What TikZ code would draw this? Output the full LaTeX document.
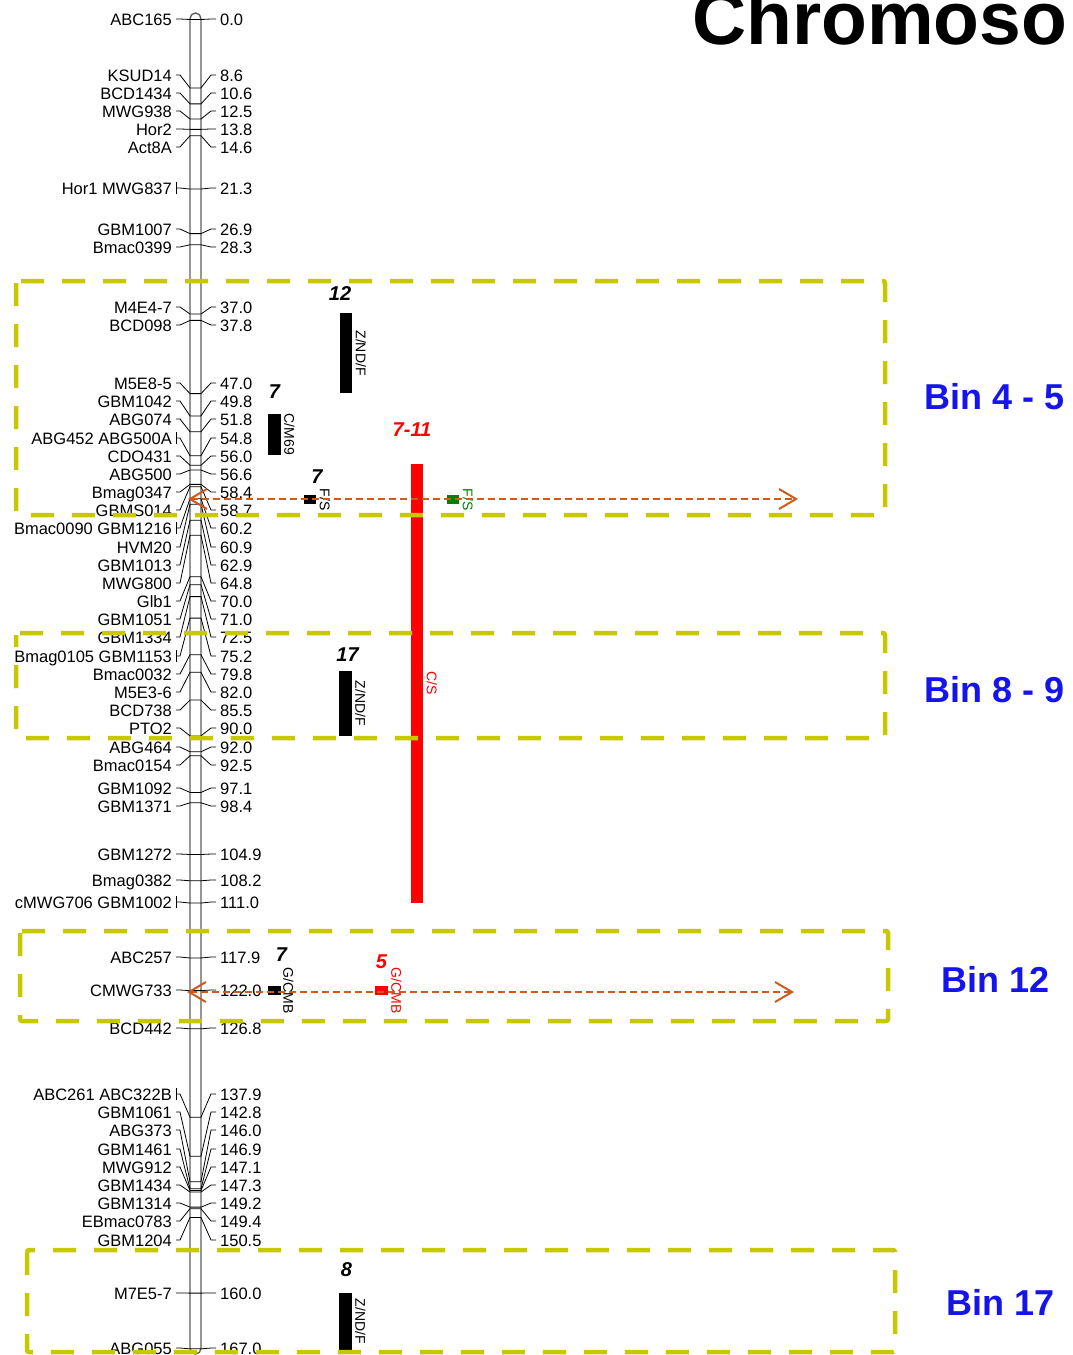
\documentclass[tikz,border=0pt]{standalone}
\usepackage{fontspec}
\setmainfont{Liberation Sans}
\usepackage{tikz}
\usetikzlibrary{positioning, arrows.meta}

\definecolor{binyellow}{RGB}{200,200,0}
\definecolor{binblue}{RGB}{20,20,235}
\definecolor{linkorange}{RGB}{205,90,30}
\definecolor{qtlgreen}{RGB}{0,128,0}
\definecolor{chrgray}{RGB}{95,95,95}

\begin{document}
\begin{tikzpicture}[
		x=1pt, y=-1pt,
		mk/.style={font=\fontsize{16.5}{18}\selectfont, inner sep=0pt},
		lead/.style={draw, line width=0.8pt},
		chrom/.style={draw=chrgray, line width=1.4pt, fill=white, rounded corners=5.5pt},
		bin/.style={draw=binyellow, line width=4.5pt, dash pattern=on 23pt off 18pt, rounded corners=2pt},
		binlab/.style={font=\fontsize{36}{40}\selectfont\bfseries, text=binblue, inner sep=0pt},
		qbar/.style={fill=#1, inner sep=0pt, minimum width=12.5pt},
		qnum/.style={font=\fontsize{20}{22}\selectfont\bfseries\itshape, inner sep=0pt},
		qlab/.style={font=\fontsize{14}{16}\selectfont, rotate=-90, inner sep=0pt, anchor=south},
		link/.style={draw=linkorange, line width=2pt, dash pattern=on 7pt off 4pt,
			{Straight Barb[length=17pt,width=20pt,line width=2pt]}-{Straight Barb[length=17pt,width=20pt,line width=2pt]}}
		]
		\clip (0,0) rectangle (1072,1355);
		
		% Title (cut off at the page edge)
		\node[font=\fontsize{75}{80}\selectfont\bfseries, anchor=base west, inner sep=0pt] (title) at (692,44) {Chromoso};
		
		% Chromosome bar
		\draw[chrom] (190,13) rectangle (201,1354);
		
		% Markers: name / cM / label y / bracket
		\foreach \nm/\ps/\ly/\br [count=\i] in {
			ABC165/0.0/19/0, KSUD14/8.6/75/0, BCD1434/10.6/93/0, MWG938/12.5/111/0,
			Hor2/13.8/129/0, Act8A/14.6/147/0, Hor1 MWG837/21.3/188/1,
			GBM1007/26.9/229/0, Bmac0399/28.3/247/0, M4E4-7/37.0/307/0, BCD098/37.8/325/0,
			M5E8-5/47.0/383/0, GBM1042/49.8/401/0, ABG074/51.8/419/0, ABG452 ABG500A/54.8/438/1,
			CDO431/56.0/456/0, ABG500/56.6/474/0, Bmag0347/58.4/492/0, GBMS014/58.7/510/0,
			Bmac0090 GBM1216/60.2/528/1, HVM20/60.9/547/0, GBM1013/62.9/565/0, MWG800/64.8/583/0,
			Glb1/70.0/601/0, GBM1051/71.0/619/0, GBM1334/72.5/637/0, Bmag0105 GBM1153/75.2/656/1,
			Bmac0032/79.8/674/0, M5E3-6/82.0/692/0, BCD738/85.5/710/0, PTO2/90.0/728/0,
			ABG464/92.0/747/0, Bmac0154/92.5/765/0, GBM1092/97.1/788/0, GBM1371/98.4/806/0,
			GBM1272/104.9/854/0, Bmag0382/108.2/880/0, cMWG706 GBM1002/111.0/902/1,
			ABC257/117.9/957/0, CMWG733/122.0/990/0, BCD442/126.8/1028/0,
			ABC261 ABC322B/137.9/1094/1, GBM1061/142.8/1112/0, ABG373/146.0/1130/0,
			GBM1461/146.9/1149/0, MWG912/147.1/1167/0, GBM1434/147.3/1185/0,
			GBM1314/149.2/1203/0, EBmac0783/149.4/1221/0, GBM1204/150.5/1240/0,
			M7E5-7/160.0/1293/0, ABG055/167.0/1348/0}{
			\node[mk, anchor=base east] (L\i) at (172,\ly+6.5) {\nm};
			\node[mk, anchor=base west] (R\i) at (220,\ly+6.5) {\ps};
			\coordinate (lA\i) at (176,\ly);
			\coordinate (rA\i) at (216,\ly);
			\coordinate (t\i) at (190,{19.5+7.96*\ps});
			\draw[lead] (lA\i) -- ++(4,0) -- (t\i) -- ++(11,0) -- ([xshift=-5pt]rA\i) -- (rA\i);
			\ifnum\br=1 \draw[lead] (176,\ly-6) -- (176,\ly+6); \fi
		}
		
		% QTL bars
		\node[qbar=black, minimum height=80pt] (b12) at (346,353) {};
		\node[qnum, above=12pt of b12, xshift=-6pt] (n12) {12};
		\node[qlab, at={([xshift=3pt]b12.east)}] (l12) {Z/ND/F};
		
		\node[qbar=black, minimum height=41pt] (bcm) at (274.5,434.5) {};
		\node[qnum, above=15pt of bcm] (ncm) {7};
		\node[qlab, at={([xshift=3pt]bcm.east)}] (lcm) {C/M69};
		
		\node[qbar=black, minimum height=9pt, minimum width=11.5pt] (bfs) at (310,499.5) {};
		\node[qnum, above=11pt of bfs, xshift=7pt] (nfs) {7};
		\node[qlab, at={([xshift=3.5pt]bfs.east)}] (lfs) {F/S};
		
		\node[qbar=red, minimum height=439pt] (bcs) at (417,683.5) {};
		\node[qnum, text=red, above=27pt of bcs, xshift=-5pt] (ncs) {7-11};
		\node[qlab, text=red, at={([xshift=3pt]bcs.east)}] (lcs) {C/S};
		
		\node[qbar=qtlgreen, minimum height=9pt] (bgf) at (453,499.5) {};
		\node[qlab, text=qtlgreen, at={([xshift=3pt]bgf.east)}] (lgf) {F/S};
		
		\node[qbar=black, minimum height=65pt] (b17) at (345.5,703.5) {};
		\node[qnum, above=9pt of b17, xshift=2pt] (n17) {17};
		\node[qlab, at={([xshift=3pt]b17.east)}] (l17) {Z/ND/F};
		
		\node[qbar=black, minimum height=9pt] (bgc) at (274.5,990.5) {};
		\node[qnum, above=24pt of bgc, xshift=7pt] (ngc) {7};
		\node[qlab, at={([xshift=2pt]bgc.east)}] (lgc) {G/CMB};
		
		\node[qbar=red, minimum height=9pt] (brg) at (381.5,990.5) {};
		\node[qnum, text=red, above=17pt of brg] (nrg) {5};
		\node[qlab, text=red, at={([xshift=3pt]brg.east)}] (lrg) {G/CMB};
		
		\node[qbar=black, minimum height=57pt] (b8) at (345.5,1321.5) {};
		\node[qnum, above=16pt of b8, xshift=1pt] (n8) {8};
		\node[qlab, at={([xshift=3pt]b8.east)}] (l8) {Z/ND/F};
		
		% Bins
		\draw[bin] (16,281) rectangle (885,515);
		\draw[bin, dash phase=11pt] (16,633) rectangle (885,738);
		\draw[bin] (20,931) rectangle (888,1021);
		\draw[bin] (27,1250) rectangle (895,1352);
		\node[binlab] (bin45) at (995,397) {Bin 4 - 5};
		\node[binlab] (bin89) at (995,690) {Bin 8 - 9};
		\node[binlab] (bin12) at (996,979) {Bin 12};
		\node[binlab] (bin17) at (1001,1302) {Bin 17};
		
		% Links
		\coordinate (aL1) at (188,499);
		\coordinate (aR1) at (798,499);
		\coordinate (aL2) at (187,992);
		\coordinate (aR2) at (794,992);
		\path[link] (aL1) -- (aR1);
		\path[link] (aL2) -- (aR2);
		
	\end{tikzpicture}
\end{document}
